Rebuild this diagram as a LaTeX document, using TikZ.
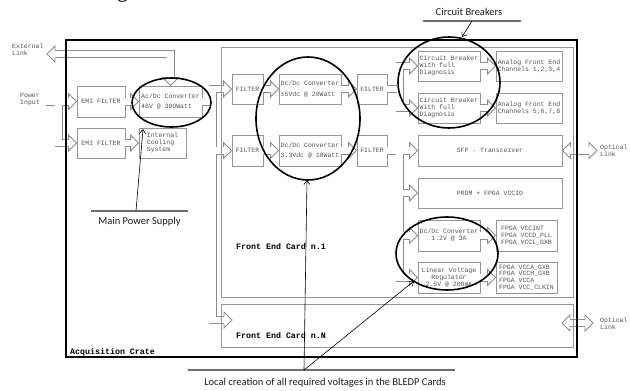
\documentclass[tikz,border=0pt]{standalone}
\usepackage{fontspec}
\setmainfont{Liberation Serif}
\newfontfamily\monof{Liberation Mono}
\newfontfamily\labf{Carlito}
\usetikzlibrary{arrows.meta}
\definecolor{bgray}{RGB}{150,150,150}
\definecolor{agray}{RGB}{140,140,140}
\definecolor{tgray}{RGB}{85,85,85}
\definecolor{ulgray}{RGB}{110,110,110}
\begin{document}
\begin{tikzpicture}[x=1pt,y=-1pt,
  bx/.style 2 args={draw=bgray, line width=0.8pt, minimum width=#1pt, minimum height=#2pt,
    inner sep=0pt, font=\monof\fontsize{6.5}{7}\selectfont, text=tgray, align=left},
  shaft/.style={draw=agray, line width=0.9pt, double=white, double distance=6.2pt},
  hR/.pic={\fill[white] (-8,-8)--(0,0)--(-8,8)--cycle;
           \draw[agray,line width=0.9pt] (-8,-3.5)--(-8,-8)--(0,0)--(-8,8)--(-8,3.5);},
  hL/.pic={\fill[white] (8,-8)--(0,0)--(8,8)--cycle;
           \draw[agray,line width=0.9pt] (8,-3.5)--(8,-8)--(0,0)--(8,8)--(8,3.5);},
  hD/.pic={\fill[white] (-8,-8)--(0,0)--(8,-8)--cycle;
           \draw[agray,line width=0.9pt] (-3.5,-8)--(-8,-8)--(0,0)--(8,-8)--(3.5,-8);},
  lab/.style={font=\labf\fontsize{10.5}{12}\selectfont, text={rgb,255:red,30;green,30;blue,30}, inner sep=0pt},
  ul/.style={draw=ulgray, line width=1.1pt},
  lead/.style={draw=black, line width=0.6pt, -{Straight Barb[length=4pt,width=6pt]}},
  ell/.style={draw=black, line width=1.6pt},
  small/.style={font=\monof\fontsize{6.5}{7}\selectfont, text=tgray, align=left, anchor=west, inner sep=0pt},
  big/.style={font=\monof\bfseries\fontsize{8.3}{9}\selectfont, text=black, anchor=west, inner sep=0pt}
]
\useasboundingbox (0,0) rectangle (630,391);
\fill[white] (0,0) rectangle (630,391);

% partially visible page text
\node[anchor=base west, inner sep=0pt, font=\fontsize{22}{24}\selectfont] (pagetxt) at (13,-3) {shown in Figure 14.};

% boxes
\node[bx={48}{31}] (emi1) at (101,101.5) {EMI FILTER};
\node[bx={63}{31}] (acdc) at (170.5,101.5) {Ac/Dc Converter\\[3pt]48V @ 300Watt};
\node[bx={48}{30}] (emi2) at (101,143) {EMI FILTER};
\node[bx={47}{30}] (cool) at (162.5,143) {Internal\\Cooling\\System};
\node[bx={31}{30}] (f1) at (247.5,89) {FILTER};
\node[bx={62}{30}] (dc5) at (310,89) {Dc/Dc Converter\\[4pt]±5Vdc @ 20Watt};
\node[bx={30}{30}] (f2) at (372,89) {FILTER};
\node[bx={31}{31}] (f3) at (247.5,150.5) {FILTER};
\node[bx={62}{31}] (dc33) at (310,150.5) {Dc/Dc Converter\\[3pt]3.3Vdc @ 10Watt};
\node[bx={30}{31}] (f4) at (372,150.5) {FILTER};
\node[bx={62}{30}] (cb1) at (449,66) {Circuit Breaker\\With full\\Diagnosis};
\node[bx={62}{30}] (cb2) at (449,108) {Circuit Breaker\\With full\\Diagnosis};
\node[bx={66}{30}] (afe1) at (529,66) {Analog Front End\\Channels 1,2,3,4};
\node[bx={66}{30}] (afe2) at (529,108) {Analog Front End\\Channels 5,6,7,8};
\node[bx={144}{31}] (sfp) at (490,150.5) {SFP - Transceiver};
\node[bx={144}{30}] (prom) at (490,193) {PROM + FPGA VCCIO};
\node[bx={62}{31}, align=center] (dc12) at (449,235.5) {Dc/Dc Converter\\1.2V @ 3A};
\node[bx={61}{31}] (fpga1) at (526.5,235.5) {FPGA VCCINT\\FPGA VCCD\_PLL\\FPGA VCCL\_GXB};
\node[bx={62}{31}, align=center] (lvr) at (449,277.5) {Linear Voltage\\Regulator\\2.5V @ 200mA};
\node[bx={61}{31}, font=\monof\fontsize{6.5}{6.7}\selectfont] (fpga2) at (526.5,277.5) {FPGA VCCA\_GXB\\FPGA VCCH\_GXB\\FPGA VCCA\\FPGA VCC\_CLKIN};

% helper coordinates
\coordinate (pin) at (46,101.5);
\coordinate (pbr) at (58.5,104.5);
\coordinate (extL) at (47,54);
\coordinate (busL) at (212.5,0);
\coordinate (busLe) at (215.5,0);
\coordinate (busLw) at (209.5,0);
\coordinate (busR) at (399.5,0);
\coordinate (busRe) at (402.5,0);
\coordinate (busRw) at (396.5,0);
\coordinate (rb0) at (399.5,153.5);
\coordinate (cNin) at (232,320);
\coordinate (opt1) at (597,150.5);
\coordinate (cNout) at (562,323);
\coordinate (opt2) at (593,323);

% block arrows (hollow double-line shafts)
\draw[shaft] (pin) -- ++(23,0);
\draw[shaft] (pbr) -- (pbr |- emi2.west) -- ++(10.5,0);
\draw[shaft] (emi1.east) -- ++(6,0);
\draw[shaft] (emi2.east) -- ++(7,0);
\draw[shaft] (extL) ++(8,0) -- (acdc.north |- extL) -- ++(0,24);
\draw[shaft] (f1.west) ++(-8,0) -- (busL |- f1.west) -- (busL |- cNin) -- ++(11.5,0);
\draw[shaft] (acdc.east) -- (busLw |- acdc.east);
\draw[shaft] (busLe |- f3.west) -- ++(8.5,0);
\draw[shaft] (f1.east) -- ++(8,0);
\draw[shaft] (dc5.east) -- ++(8,0);
\draw[shaft] (f3.east) -- ++(8,0);
\draw[shaft] (dc33.east) -- ++(8,0);
\draw[shaft] (cb1.west) ++(-8,0) -- (busR |- cb1.west) -- (busR |- cb2.west) -- ++(10.5,0);
\draw[shaft] (f2.east) -- (busRw |- f2.east);
\draw[shaft] (cb1.east) -- ++(8,0);
\draw[shaft] (cb2.east) -- ++(8,0);
\draw[shaft] (f4.east) -- ++(23,0);
\draw[shaft] (rb0) -- (rb0 |- lvr.west) -- ++(10.5,0);
\draw[shaft] (busRe |- prom.west) -- ++(7.5,0);
\draw[shaft] (busRe |- dc12.west) -- ++(7.5,0);
\draw[shaft] (dc12.east) -- ++(8,0);
\draw[shaft] (lvr.east) -- ++(8,0);
\draw[shaft] (sfp.east) ++(8,0) -- ++(19,0);
\draw[shaft] (cNout) ++(8,0) -- ++(15,0);

\foreach \tgt in {emi1,emi2,acdc,cool,f1,f3,dc5,f2,dc33,f4,cb1,cb2,afe1,afe2,sfp,prom,dc12,lvr,fpga1,fpga2}
  {\pic at (\tgt.west) {hR};}
\pic at (cNin) {hR};
\pic at (opt1) {hR};
\pic at (opt2) {hR};
\pic at (extL) {hL};
\pic at (sfp.east) {hL};
\pic at (cNout) {hL};
\pic at (acdc.north) {hD};

% cards and crate
\draw[draw=bgray, line width=0.9pt] (221,47) rectangle (573,297);
\draw[draw=bgray, line width=0.9pt] (221,304) rectangle (573,347);
\draw[draw=black, line width=1.3pt] (66,40) rectangle (577,357);

% small texts
\node[small] (ext) at (12,50) {External\\Link};
\node[small] (pwr) at (20,100) {Power\\Input};
\node[small] (opl1) at (600,150.5) {Optical\\Link};
\node[small] (opl2) at (600,323.5) {Optical\\Link};
\node[big] (fec1) at (236,247) {Front End Card n.1};
\node[big] (fecn) at (236,336) {Front End Card n.N};
\node[big] (crate) at (70,352) {Acquisition Crate};

% ellipses
\draw[ell] (171.5,102.5) ellipse [x radius=39.5pt, y radius=24.5pt];
\draw[ell] (308,118.5) ellipse [x radius=52pt, y radius=61.5pt];
\draw[ell] (449,82.5) ellipse [x radius=51pt, y radius=45.5pt];
\draw[ell] (447,253.5) ellipse [x radius=51pt, y radius=36.5pt];

% annotations
\node[lab] (cbl) at (469,12) {Circuit Breakers};
\coordinate (cbu1) at (423,21); \coordinate (cbu2) at (521,21);
\coordinate (cbs) at (472,21); \coordinate (cbt) at (462,37);
\draw[ul] (cbu1) -- (cbu2);
\draw[lead] (cbs) -- (cbt);

\node[lab] (mps) at (139.5,222) {Main Power Supply};
\coordinate (mpu1) at (91,211); \coordinate (mpu2) at (188,211);
\coordinate (mps0) at (136,211); \coordinate (mpt) at (143,129);
\draw[ul] (mpu1) -- (mpu2);
\draw[lead] (mps0) -- (mpt);

\node[lab] (loc) at (325,383) {Local creation of all required voltages in the BLEDP Cards};
\coordinate (lcu1) at (188,370); \coordinate (lcu2) at (455,370);
\coordinate (lcs) at (304,370); \coordinate (lct1) at (307,180); \coordinate (lct2) at (414,281);
\draw[ul] (lcu1) -- (lcu2);
\draw[lead] (lcs) -- (lct1);
\draw[lead] (lcs) -- (lct2);
\end{tikzpicture}
\end{document}
